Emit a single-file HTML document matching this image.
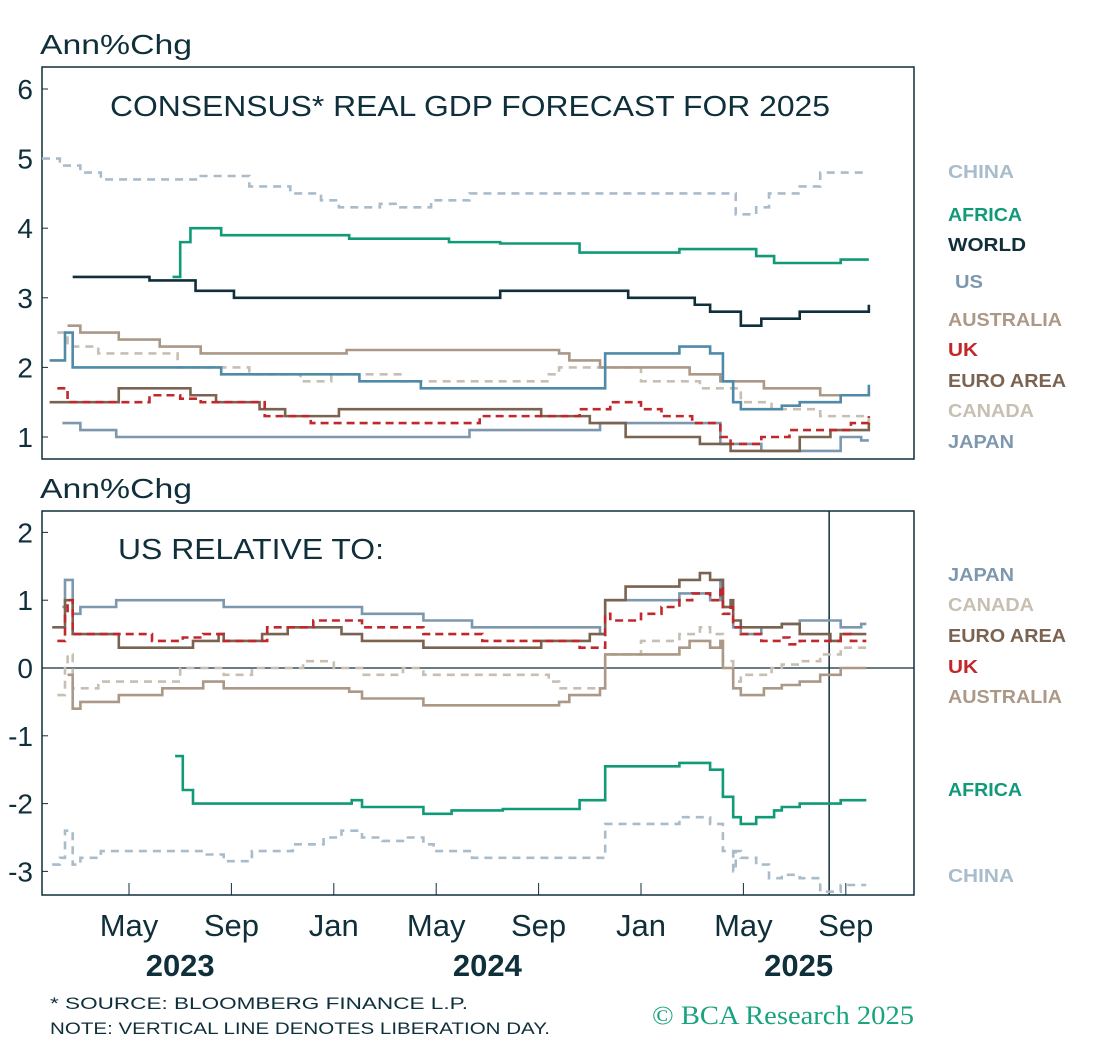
<!DOCTYPE html>
<html><head><meta charset="utf-8"><style>
body{margin:0;background:#fff;font-family:"Liberation Sans",sans-serif}
svg{display:block}
</style></head><body>
<svg id="c" width="1093" height="1057" viewBox="0 0 1093 1057" xmlns="http://www.w3.org/2000/svg" font-family="Liberation Sans, sans-serif"></svg>
<script>
// ---- data (t = months since Jan 2023) ----
const tickLabels=["May","Sep","Jan","May","Sep","Jan","May","Sep"];
const tickMonths=[4,8,12,16,20,24,28,32];
const yearLabels=["2023","2024","2025"];
const yearMonths=[6,18,30];
const topTicks=[1,2,3,4,5,6];
const botTicks=[-3,-2,-1,0,1,2];
const chinaT=[0.6,1.3,2.1,2.9,6.8,8.7,10.3,11.5,12.2,13.8,14.6,15.8,17.3,27.7,28.5,29,30.2,31];
const chinaV=[5.0,4.9,4.8,4.7,4.75,4.6,4.5,4.4,4.3,4.35,4.3,4.4,4.5,4.2,4.3,4.5,4.6,4.8];
const africaT=[5.7,6.0,6.4,7.6,12.6,16.5,18.5,21.6,25.5,27.1,28.5,29.2,31.8];
const africaV=[3.3,3.8,4.0,3.9,3.85,3.8,3.78,3.65,3.7,3.7,3.6,3.5,3.55];
const worldT=[1.8,4.8,6.6,8.1,18.5,22,23.5,26.1,26.7,27.9,28.7,30.2,32.9];
const worldV=[3.3,3.25,3.1,3.0,3.1,3.1,3.0,2.9,2.8,2.6,2.7,2.8,2.9];
const usT=[0.9,1.5,1.8,7.6,13,15.4,22.6,25.5,26.7,27.2,27.6,27.9,29.5,30.2,31.8,32.9];
const usV=[2.1,2.5,2.0,1.9,1.8,1.7,2.2,2.3,2.2,1.8,1.5,1.4,1.45,1.5,1.6,1.75];
const ausT=[1.6,2.1,3.6,5.2,6.8,12.5,20.8,21.2,22.4,25.9,27.1,28.8,31,32.9];
const ausV=[2.6,2.5,2.4,2.3,2.2,2.25,2.2,2.1,2.0,1.9,1.8,1.7,1.6,1.65];
const ukT=[1.2,1.6,4.8,6.0,6.8,9.3,11.1,17.7,21.6,22.8,24,24.8,26,27.1,27.5,28.7,29.8,32.2,32.9];
const ukV=[1.7,1.5,1.6,1.55,1.5,1.3,1.2,1.3,1.4,1.5,1.4,1.3,1.2,1.0,0.9,1.0,1.1,1.2,1.3];
const euroT=[0.9,3.6,6.4,7.4,9.1,10.1,12.2,20.1,22,23.4,26.3,27.5,30.2,31.4,32.9];
const euroV=[1.5,1.7,1.6,1.5,1.4,1.3,1.4,1.3,1.2,1.0,0.9,0.8,1.0,1.1,1.2];
const canT=[1.2,1.6,2.8,5.9,8.7,10.7,11.9,14.6,20.4,20.8,24,26.3,27.9,29.1,31,32.9];
const canV=[2.5,2.3,2.2,2.0,1.9,1.8,1.9,1.8,1.9,2.0,1.8,1.7,1.5,1.4,1.3,1.2];
const japT=[1.4,2.1,3.5,17.3,22.4,27.1,28.7,31.8,32.6];
const japV=[1.2,1.1,1.0,1.1,1.2,0.9,0.8,1.0,0.95];
const endT=32.9;
const liberationT=31.35;
// ---- scales ----
const X=t=>129+(t-4)*25.6;
const YT=v=>437-(v-1)*69.6;
const YB=v=>668-v*67.8;
const svg=document.getElementById('c');
const NS='http://www.w3.org/2000/svg';
function el(tag,attrs,parent){const e=document.createElementNS(NS,tag);for(const k in attrs)e.setAttribute(k,attrs[k]);(parent||svg).appendChild(e);return e;}
function txt(s,x,y,attrs){const e=el('text',Object.assign({x:x,y:y,fill:'#0f2f3a'},attrs));e.textContent=s;return e;}
function stepAt(T,V,t){if(t<T[0]||t>endT)return null;let v=V[0];for(let i=0;i<T.length;i++){if(T[i]<=t)v=V[i];}return v;}
function stepPath(T,V,Y){let d='';for(let i=0;i<T.length;i++){const x=X(T[i]),y=Y(V[i]);if(i===0)d+='M'+x+','+y;else d+='V'+y;const nx=i<T.length-1?X(T[i+1]):X(endT);d+='H'+nx;}return d;}
function diffPath(A,B,Y){let d='';let started=false;for(let t=0;t<=endT+0.001;t+=0.1){const a=stepAt(A[0],A[1],t),b=stepAt(B[0],B[1],t);if(a===null||b===null)continue;const v=a-b;const x=X(t),y=Y(v);if(!started){d+='M'+x.toFixed(1)+','+y.toFixed(1);started=true;}else{d+='H'+x.toFixed(1)+'V'+y.toFixed(1);}}return d;}
const LA={lengthAdjust:'spacingAndGlyphs'};
// frames
const topG=el('g',{});


const botG=el('g',{});


const f1=el('rect',{x:42,y:67,width:872,height:392,fill:'none',stroke:'#0f2f3a','stroke-width':1.5},topG);


const f2=el('rect',{x:42,y:511,width:872,height:384,fill:'none',stroke:'#0f2f3a','stroke-width':1.5},botG);


let t1=txt('Ann%Chg',40,54,Object.assign({'font-size':28,textLength:152},LA));


let t2=txt('Ann%Chg',40,498,Object.assign({'font-size':28,textLength:152},LA));


let tt=txt('CONSENSUS* REAL GDP FORECAST FOR 2025',110,116,Object.assign({'font-size':29,textLength:720},LA));


let bt=txt('US RELATIVE TO:',118,559,Object.assign({'font-size':29,textLength:266},LA));


topTicks.forEach(v=>{const e=txt(String(v),33,YT(v)+10,{'font-size':28,'text-anchor':'end'});


el('line',{x1:42,x2:48,y1:YT(v),y2:YT(v),stroke:'#0f2f3a'},topG);});
botTicks.forEach(v=>{const e=txt(String(v),33,YB(v)+10,{'font-size':28,'text-anchor':'end'});


el('line',{x1:42,x2:48,y1:YB(v),y2:YB(v),stroke:'#0f2f3a'},botG);});
tickMonths.forEach((m,i)=>{el('line',{x1:X(m),x2:X(m),y1:883,y2:895,stroke:'#0f2f3a'},botG);
const e=txt(tickLabels[i],X(m),936,{'font-size':31,'text-anchor':'middle'});

});
yearMonths.forEach((m,i)=>{const e=txt(yearLabels[i],X(m)-(i==2?-4:0),976,{'font-size':31,'text-anchor':'middle','font-weight':'bold'});

});
// zero line & liberation day
const z=el('line',{x1:42,x2:914,y1:YB(0),y2:YB(0),stroke:'#0f2f3a','stroke-width':1.2},botG);


const lb=el('line',{x1:X(liberationT),x2:X(liberationT),y1:511,y2:895,stroke:'#0f2f3a','stroke-width':1.5},botG);


// series
const S={china:[chinaT,chinaV],africa:[africaT,africaV],world:[worldT,worldV],us:[usT,usV],aus:[ausT,ausV],uk:[ukT,ukV],euro:[euroT,euroV],can:[canT,canV],jap:[japT,japV]};
const styles={china:['#a9bccb','8,6'],africa:['#109a78',''],world:['#0f2f3a',''],us:['#4f8aa8',''],aus:['#ab9886',''],uk:['#c0282b','8,5'],euro:['#7a6350',''],can:['#c8bfb3','8,6'],jap:['#7d98ae','']};
['china','can','jap','euro','uk','aus','us','world','africa'].forEach(k=>{const p=el('path',{d:stepPath(S[k][0],S[k][1],YT),fill:'none',stroke:styles[k][0],'stroke-width':2.6,'stroke-dasharray':styles[k][1]},topG);

});
['china','can','aus','africa','jap','euro','uk'].forEach(k=>{const p=el('path',{d:diffPath(S.us,S[k],YB),fill:'none',stroke:styles[k][0],'stroke-width':2.6,'stroke-dasharray':styles[k][1]},botG);

});
// legends
const topLeg=[['CHINA','#a9bccb',178,948,66],['AFRICA','#109a78',221,948,74],['WORLD','#0f2f3a',251,948,78],['US','#7d98ae',288,955,28],['AUSTRALIA','#ab9886',326,948,114],['UK','#c0282b',356,948,30],['EURO AREA','#7a6350',387,948,118],['CANADA','#c8bfb3',417,948,86],['JAPAN','#7d98ae',448,948,66]];
topLeg.forEach(l=>{const e=txt(l[0],l[3],l[2],Object.assign({'font-size':18,'font-weight':'bold',fill:l[1],textLength:l[4]},LA));

});
const botLeg=[['JAPAN','#7d98ae',581,66],['CANADA','#c8bfb3',611,86],['EURO AREA','#7a6350',642,118],['UK','#c0282b',673,30],['AUSTRALIA','#ab9886',703,114],['AFRICA','#109a78',796,74],['CHINA','#a9bccb',882,66]];
botLeg.forEach(l=>{const e=txt(l[0],948,l[2],Object.assign({'font-size':18,'font-weight':'bold',fill:l[1],textLength:l[3]},LA));

});
let n1=txt('* SOURCE: BLOOMBERG FINANCE L.P.',50,1009,Object.assign({'font-size':17,textLength:418},LA));


let n2=txt('NOTE: VERTICAL LINE DENOTES LIBERATION DAY.',50,1034,Object.assign({'font-size':17,textLength:500},LA));


let br=txt('© BCA Research 2025',652,1024,Object.assign({'font-size':26,fill:'#1aa37f','font-family':'Liberation Serif, serif',textLength:262},LA));


</script>
</body></html>
